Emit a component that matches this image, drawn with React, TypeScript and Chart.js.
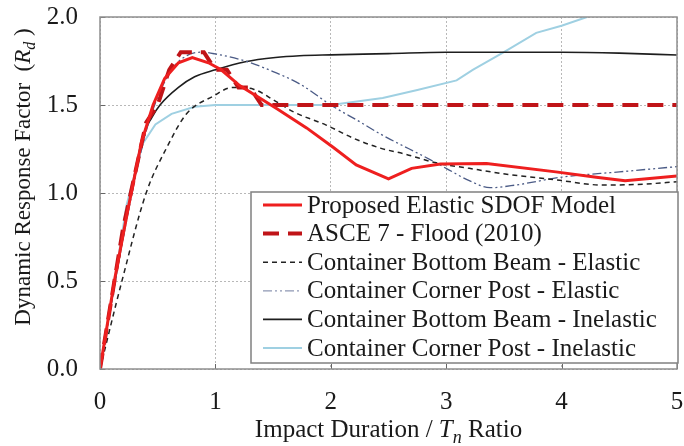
import { useEffect, useRef } from "react";
import { Chart, registerables } from "chart.js";

Chart.register(...registerables);

const FONT = '"Liberation Serif", "Times New Roman", serif';

// Proposed elastic SDOF model
const sdofX = [0, 0.13, 0.24, 0.36, 0.46, 0.56, 0.68, 0.8, 0.94, 1.05, 1.21, 1.53, 1.79, 2.02, 2.22, 2.5, 2.7, 2.95, 3.35, 3.95, 4.3, 4.55, 5.0];
const sdofY = [0, 0.52, 0.9, 1.29, 1.5, 1.65, 1.74, 1.77, 1.74, 1.7, 1.61, 1.48, 1.37, 1.26, 1.16, 1.08, 1.14, 1.165, 1.168, 1.12, 1.09, 1.07, 1.097];

// ASCE 7 flood impact factor table
const asceX = [0, 0.1, 0.2, 0.3, 0.4, 0.5, 0.6, 0.7, 0.8, 0.9, 1.0, 1.1, 1.2, 1.3, 1.4, 5.0];
const asceY = [0, 0.4, 0.8, 1.1, 1.4, 1.5, 1.7, 1.8, 1.8, 1.8, 1.7, 1.7, 1.6, 1.6, 1.5, 1.5];

// Container bottom beam, elastic
const bbElX = [0, 0.19, 0.4, 0.58, 0.75, 0.98, 1.15, 1.33, 1.5, 1.68, 1.96, 2.2, 2.43, 2.65, 2.92, 3.2, 3.49, 3.96, 4.36, 4.7, 5.0];
const bbElY = [0, 0.5, 1.0, 1.26, 1.45, 1.55, 1.6, 1.59, 1.53, 1.46, 1.386, 1.31, 1.255, 1.22, 1.17, 1.14, 1.11, 1.074, 1.045, 1.05, 1.064];

// Container corner post, elastic
const cpElX = [0, 0.2, 0.4, 0.6, 0.75, 0.88, 1.0, 1.26, 1.5, 1.73, 2.0, 2.25, 2.43, 2.86, 3.0, 3.2, 3.38, 3.6, 4.0, 4.5, 5.0];
const cpElY = [0, 0.74, 1.35, 1.68, 1.78, 1.8, 1.79, 1.75, 1.69, 1.62, 1.5, 1.405, 1.335, 1.19, 1.14, 1.07, 1.03, 1.045, 1.09, 1.12, 1.15];

// Container bottom beam, inelastic
const bbInX = [0, 0.13, 0.27, 0.37, 0.45, 0.52, 0.68, 0.82, 1.0, 1.26, 1.52, 1.73, 2.0, 2.5, 3.0, 3.5, 4.0, 4.5, 5.0];
const bbInY = [0, 0.5, 1.0, 1.32, 1.43, 1.5, 1.6, 1.66, 1.7, 1.746, 1.77, 1.78, 1.785, 1.792, 1.8, 1.8, 1.8, 1.795, 1.784];

// Container corner post, inelastic
const cpInX = [0, 0.12, 0.23, 0.37, 0.48, 0.62, 0.82, 1.0, 1.5, 2.0, 2.45, 2.75, 3.09, 3.23, 3.5, 3.78, 4.0, 4.22];
const cpInY = [0, 0.47, 0.93, 1.28, 1.39, 1.45, 1.49, 1.5, 1.5, 1.5, 1.54, 1.585, 1.64, 1.7, 1.8, 1.91, 1.95, 2.0];

const seriesLabels = [
  "Proposed Elastic SDOF Model",
  "ASCE 7 - Flood (2010)",
  "Container Bottom Beam - Elastic",
  "Container Corner Post - Elastic",
  "Container Bottom Beam - Inelastic",
  "Container Corner Post - Inelastic",
];

const xTickValues = [0, 1, 2, 3, 4, 5];
const yTickValues = [0, 0.5, 1.0, 1.5, 2.0];

const pts = (xs: number[], ys: number[]) => xs.map((x, i) => ({ x, y: ys[i] }));

type Part = { t: string; italic?: boolean; sub?: boolean };

function drawRich(ctx: CanvasRenderingContext2D, parts: Part[], size: number) {
  const fontOf = (p: Part) =>
    `${p.italic ? "italic " : ""}${p.sub ? Math.round(size * 0.7) : size}px ${FONT}`;
  let total = 0;
  for (const p of parts) {
    ctx.font = fontOf(p);
    total += ctx.measureText(p.t).width;
  }
  let x = -total / 2;
  ctx.textAlign = "left";
  ctx.textBaseline = "alphabetic";
  for (const p of parts) {
    ctx.font = fontOf(p);
    ctx.fillText(p.t, x, p.sub ? size * 0.22 : 0);
    x += ctx.measureText(p.t).width;
  }
}

const decor = {
  id: "decor",
  afterDatasetsDraw(chart: any) {
    const { ctx, chartArea: a, scales } = chart;
    ctx.save();
    ctx.setLineDash([]);

    // inward tick marks
    ctx.strokeStyle = "#666";
    ctx.lineWidth = 1;
    for (const v of xTickValues) {
      const px = Math.round(scales.x.getPixelForValue(v)) + 0.5;
      ctx.beginPath();
      ctx.moveTo(px, a.bottom);
      ctx.lineTo(px, a.bottom - 5);
      ctx.stroke();
    }
    for (const v of yTickValues) {
      const py = Math.round(scales.y.getPixelForValue(v)) + 0.5;
      ctx.beginPath();
      ctx.moveTo(a.left, py);
      ctx.lineTo(a.left + 5, py);
      ctx.stroke();
    }

    // plot frame
    ctx.strokeStyle = "#8f8f8f";
    ctx.lineWidth = 1.5;
    ctx.strokeRect(a.left, a.top, a.right - a.left, a.bottom - a.top);

    // legend box in the lower right of the plot
    const bx = a.right - 426;
    const by = a.bottom - 177;
    const bw = 427;
    const bh = 171;
    ctx.fillStyle = "#ffffff";
    ctx.fillRect(bx, by, bw, bh);
    ctx.strokeStyle = "#808080";
    ctx.lineWidth = 1.5;
    ctx.strokeRect(bx, by, bw, bh);

    ctx.font = `25px ${FONT}`;
    ctx.textBaseline = "middle";
    ctx.textAlign = "left";
    chart.data.datasets.forEach((ds: any, i: number) => {
      const cy = by + 13 + i * 28.6;
      ctx.save();
      ctx.strokeStyle = ds.legendColor || ds.borderColor;
      ctx.lineWidth = ds.borderWidth;
      ctx.setLineDash(ds.borderDash || []);
      ctx.beginPath();
      ctx.moveTo(bx + 12, cy);
      ctx.lineTo(bx + 51, cy);
      ctx.stroke();
      ctx.restore();
      ctx.fillStyle = "#1a1a1a";
      ctx.fillText(ds.label, bx + 56, cy + 1);
    });
    ctx.restore();
  },
  afterDraw(chart: any) {
    const { ctx, chartArea: a } = chart;
    ctx.save();
    ctx.fillStyle = "#1a1a1a";

    // x-axis title
    ctx.save();
    ctx.translate((a.left + a.right) / 2, 437);
    drawRich(
      ctx,
      [
        { t: "Impact Duration / " },
        { t: "T", italic: true },
        { t: "n", italic: true, sub: true },
        { t: " Ratio" },
      ],
      25
    );
    ctx.restore();

    // y-axis title
    ctx.save();
    ctx.translate(30, 177);
    ctx.rotate(-Math.PI / 2);
    drawRich(
      ctx,
      [
        { t: "Dynamic Response Factor  (" },
        { t: "R", italic: true },
        { t: "d", italic: true, sub: true },
        { t: " )" },
      ],
      23
    );
    ctx.restore();

    ctx.restore();
  },
};

export default function App() {
  const ref = useRef<HTMLCanvasElement | null>(null);

  useEffect(() => {
    const prevMargin = document.body.style.margin;
    document.body.style.margin = "0";
    const canvas = ref.current;
    if (!canvas) return;

    const chart = new Chart(canvas, {
      type: "line",
      data: {
        datasets: [
          {
            label: seriesLabels[0],
            data: pts(sdofX, sdofY),
            borderColor: "#ee1f1f",
            borderWidth: 3,
            tension: 0,
          },
          {
            label: seriesLabels[1],
            data: pts(asceX, asceY),
            borderColor: "#c01418",
            borderWidth: 4,
            borderDash: [16, 9],
            tension: 0,
          },
          {
            label: seriesLabels[2],
            data: pts(bbElX, bbElY),
            borderColor: "#222222",
            borderWidth: 1.5,
            borderDash: [5, 4],
            cubicInterpolationMode: "monotone",
          },
          {
            label: seriesLabels[3],
            data: pts(cpElX, cpElY),
            borderColor: "#4b5b86",
            legendColor: "#8e98b4",
            borderWidth: 1.3,
            borderDash: [9, 3, 2, 3, 2, 3],
            cubicInterpolationMode: "monotone",
          },
          {
            label: seriesLabels[4],
            data: pts(bbInX, bbInY),
            borderColor: "#1e1e1e",
            borderWidth: 1.6,
            cubicInterpolationMode: "monotone",
          },
          {
            label: seriesLabels[5],
            data: pts(cpInX, cpInY),
            borderColor: "#9fd0e2",
            borderWidth: 2,
            tension: 0,
          },
        ],
      },
      options: {
        responsive: false,
        animation: false,
        parsing: false,
        normalized: true,
        elements: { point: { radius: 0, hoverRadius: 0 } },
        layout: { padding: { top: 17, right: 7, left: 0, bottom: 0 } },
        plugins: {
          legend: { display: false },
          title: { display: false },
          tooltip: { enabled: false },
        },
        scales: {
          x: {
            type: "linear",
            min: 0,
            max: 5,
            afterFit: (s: any) => {
              s.height = 77;
              s.paddingLeft = 0;
              s.paddingRight = 0;
            },
            afterBuildTicks: (s: any) => {
              s.ticks = xTickValues.map((v) => ({ value: v }));
            },
            grid: { color: "#b8b8b8", lineWidth: 1, drawTicks: false },
            border: { display: false, dash: [2, 2] },
            ticks: {
              padding: 18,
              color: "#1a1a1a",
              font: { family: FONT, size: 25 },
              callback: (v: any) => String(v),
            },
          },
          y: {
            type: "linear",
            min: 0,
            max: 2,
            afterFit: (s: any) => {
              s.width = 100;
              s.paddingTop = 0;
              s.paddingBottom = 0;
            },
            afterBuildTicks: (s: any) => {
              s.ticks = yTickValues.map((v) => ({ value: v }));
            },
            grid: { color: "#b8b8b8", lineWidth: 1, drawTicks: false },
            border: { display: false, dash: [2, 2] },
            ticks: {
              padding: 22,
              color: "#1a1a1a",
              font: { family: FONT, size: 25 },
              callback: (v: any) => Number(v).toFixed(1),
            },
          },
        },
      },
      plugins: [decor],
    } as any);

    return () => {
      chart.destroy();
      document.body.style.margin = prevMargin;
    };
  }, []);

  return (
    <div style={{ position: "fixed", left: 0, top: 0, width: 684, height: 446, background: "#fff" }}>
      <canvas ref={ref} width={684} height={446} style={{ display: "block", width: 684, height: 446 }} />
    </div>
  );
}
